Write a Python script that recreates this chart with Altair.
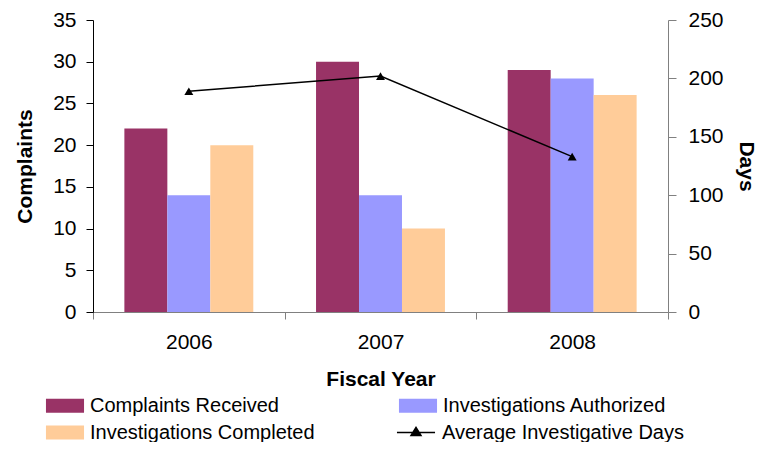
import altair as alt
import pandas as pd

years = ["2006", "2007", "2008"]
series = ["Complaints Received", "Investigations Authorized", "Investigations Completed"]
complaints_received = [22, 30, 29]
investigations_authorized = [14, 14, 28]
investigations_completed = [20, 10, 26]
avg_days = [189, 202, 133]
line_series = "Average Investigative Days"
bar_colors = ["#993366", "#9999FF", "#FFCC99"]

# legend order (Vega fills legend columns first)
legend_order = ["Complaints Received", "Investigations Completed", "Investigations Authorized"]
legend_colors = [bar_colors[series.index(s)] for s in legend_order]

rows = []
for i, yr in enumerate(years):
    for s, vals in zip(series, [complaints_received, investigations_authorized, investigations_completed]):
        rows.append({"year": yr, "series": s, "value": vals[i]})
bars_df = pd.DataFrame(rows)
line_df = pd.DataFrame({"year": years, "days": avg_days, "series": [line_series] * len(years)})

FONT = "Liberation Sans"
FS = 21
LFS = 20

x_enc = alt.X(
    "year:N", sort=years,
    scale=alt.Scale(paddingInner=0, paddingOuter=0),
    axis=alt.Axis(title="Fiscal Year", labelAngle=0, tickBand="extent",
                  domainColor="#808080", tickColor="#808080", tickSize=7,
                  labelPadding=12, titlePadding=16, labelFontSize=FS,
                  titleFontSize=FS, titleFontWeight="bold", labelColor="black",
                  titleColor="black"),
)

bars = alt.Chart(bars_df).mark_bar().encode(
    x=x_enc,
    xOffset=alt.XOffset("series:N", sort=series,
                        scale=alt.Scale(paddingOuter=0.73, paddingInner=0)),
    y=alt.Y("value:Q", scale=alt.Scale(domain=[0, 35], nice=False),
            axis=alt.Axis(title="Complaints", orient="left", values=list(range(0, 36, 5)),
                          domainColor="black", tickColor="black", tickSize=7,
                          labelPadding=10, titlePadding=17, labelFontSize=FS,
                          titleFontSize=FS, titleFontWeight="bold",
                          labelColor="black", titleColor="black")),
    color=alt.Color("series:N",
                    scale=alt.Scale(domain=legend_order, range=legend_colors),
                    legend=alt.Legend(orient="none", legendX=-41.5, legendY=372, columns=2,
                                      title=None,
                                      symbolType="M-1.41,-0.52H1.41V0.52H-1.41Z",
                                      symbolSize=729, symbolStrokeWidth=0,
                                      labelFontSize=LFS, labelFont=FONT, labelColor="black",
                                      labelOffset=11.5, columnPadding=83, rowPadding=3,
                                      padding=0, labelLimit=400)),
)

y_days = alt.Y("days:Q", scale=alt.Scale(domain=[0, 250], nice=False),
               axis=alt.Axis(title="Days", orient="right", values=list(range(0, 251, 50)),
                             domainColor="#808080", tickColor="#808080", tickSize=8,
                             labelPadding=12, titlePadding=12, labelFontSize=FS,
                             titleFontSize=FS, titleFontWeight="bold",
                             labelColor="black", titleColor="black"))

line = alt.Chart(line_df).mark_line(color="black", strokeWidth=1.5).encode(
    x=x_enc, y=y_days)

points = alt.Chart(line_df).mark_point(shape="triangle-up", filled=True, size=80, opacity=1).encode(
    x=x_enc, y=y_days,
    color=alt.Color("series:N", scale=alt.Scale(domain=[line_series], range=["black"]),
                    legend=alt.Legend(orient="none", legendX=308.5, legendY=398, title=None,
                                      symbolType="M-1.41,0H1.41M0,-0.37L0.37,0.22L-0.37,0.22Z",
                                      symbolSize=729, symbolStrokeColor="black",
                                      symbolFillColor="black", symbolStrokeWidth=1.5,
                                      labelFontSize=LFS, labelFont=FONT, labelColor="black",
                                      labelOffset=11.5, padding=0, labelLimit=400)),
)

right = alt.layer(line, points)

chart = alt.layer(bars, right).resolve_scale(y="independent", color="independent").properties(
    width=575, height=292,
    padding={"left": 85, "top": 12, "right": 92, "bottom": 130},
    autosize=alt.AutoSizeParams(type="none"),
).configure(font=FONT).configure_view(stroke=None).configure_axis(grid=False)

chart.save("out.html", embed_options={"renderer": "svg", "actions": False})
